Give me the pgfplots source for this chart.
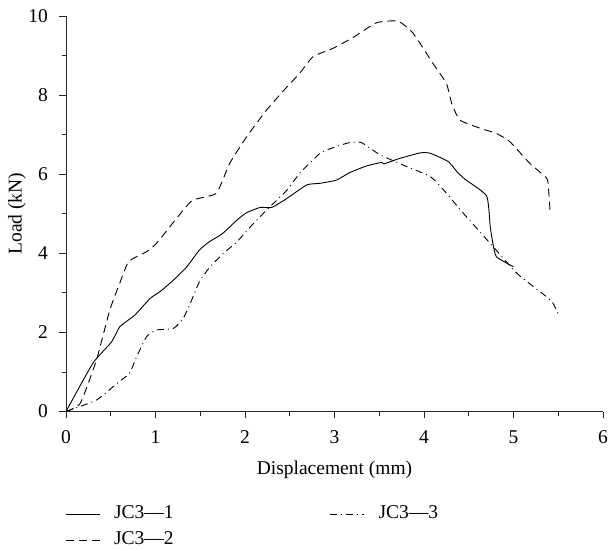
\documentclass[border=0pt]{standalone}
\usepackage{fontspec}
\setmainfont{Liberation Serif}
\usepackage{pgfplots}
\pgfplotsset{compat=1.18}
\begin{document}
\fontsize{19.5bp}{23bp}\selectfont
\begin{tikzpicture}
\begin{axis}[
  scale only axis, width=537bp, height=395.5bp,
  xmin=0, xmax=6, ymin=0, ymax=10,
  axis x line=bottom, axis y line=left,
  axis line style={-, line width=0.8bp, black!85},
  xtick={0,1,...,6}, ytick={0,2,...,10},
  minor x tick num=1, minor y tick num=1,
  tick align=outside, major tick length=6.5bp, minor tick length=4bp,
  tick style={black!85, line width=0.8bp},
  /pgf/number format/assume math mode=true,
  xticklabel style={yshift=-6bp},
  yticklabel style={xshift=-5bp},
  xlabel={Displacement (mm)}, ylabel={Load (kN)},
  every axis x label/.style={at={([yshift=-58bp]axis description cs:0.5,0)}, anchor=center},
  every axis y label/.style={at={([xshift=-49bp]axis description cs:0,0.5)}, anchor=center, rotate=90},
  legend columns=2,
  legend cell align=left,
  legend image code/.code={\draw[#1] (0bp,0bp) -- (34bp,0bp);},
  legend style={draw=none, fill=none, inner sep=0pt,
    at={(0,0)}, anchor=north west, xshift=-1bp, yshift=-92bp,
    nodes={inner sep=1bp, text height=14bp, text depth=5bp},
    row sep=5bp,
    /tikz/every odd column/.append style={column sep=13bp},
    /tikz/every even column/.append style={column sep=155bp}},
]
\addplot[black, line width=0.9bp, smooth, tension=0.3] coordinates {
(0,0)(0.30,1.22)(0.51,1.76)(0.60,2.14)(0.77,2.44)(0.94,2.86)(1.05,3.03)(1.20,3.32)(1.35,3.66)(1.49,4.08)(1.60,4.29)(1.75,4.50)(1.91,4.84)(2.02,5.03)(2.17,5.16)(2.30,5.16)(2.47,5.39)(2.69,5.73)(2.84,5.77)(3.02,5.85)(3.17,6.04)(3.36,6.21)(3.53,6.30)(3.55,6.26)(3.73,6.40)(3.96,6.54)(4.07,6.53)(4.27,6.32)(4.37,6.06)(4.46,5.87)(4.70,5.45)(4.74,4.67)(4.77,4.25)(4.81,3.91)(5.00,3.66)
};
\addlegendentry{JC3—1}
\addplot[black, line width=0.9bp, smooth, tension=0.3, dash pattern=on 7bp off 4bp on 1bp off 4bp] coordinates {
(0,0)(0.34,0.29)(0.57,0.71)(0.71,0.97)(0.79,1.39)(0.90,1.89)(1.01,2.06)(1.20,2.10)(1.31,2.36)(1.39,2.74)(1.49,3.28)(1.61,3.66)(1.76,4.00)(1.91,4.29)(2.06,4.67)(2.24,5.09)(2.47,5.60)(2.61,6.02)(2.84,6.53)(3.02,6.70)(3.17,6.80)(3.30,6.80)(3.51,6.49)(3.81,6.19)(4.07,5.94)(4.22,5.60)(4.44,5.01)(4.74,4.25)(5.04,3.49)(5.37,2.90)(5.44,2.74)(5.50,2.47)
};
\addlegendentry{JC3—3}
\addplot[black, line width=0.9bp, smooth, tension=0.3, dash pattern=on 8bp off 5bp] coordinates {
(0,0)(0.16,0.21)(0.34,1.30)(0.49,2.57)(0.60,3.24)(0.70,3.79)(0.90,4.04)(1.01,4.25)(1.16,4.67)(1.31,5.09)(1.42,5.35)(1.68,5.52)(1.83,6.28)(2.02,6.95)(2.24,7.62)(2.47,8.21)(2.61,8.55)(2.76,8.97)(2.98,9.18)(3.21,9.46)(3.47,9.83)(3.71,9.87)(3.88,9.56)(4.10,8.80)(4.25,8.30)(4.31,7.79)(4.40,7.37)(4.63,7.16)(4.81,7.03)(4.96,6.82)(5.18,6.28)(5.37,5.90)(5.39,5.68)(5.41,5.01)
};
\addlegendentry{JC3—2}
\coordinate (O) at (rel axis cs:0,0);
\end{axis}
\pgfresetboundingbox
\path (O) ++(-66bp,-139.5bp) rectangle ++(609bp,551bp);
\end{tikzpicture}
\end{document}
